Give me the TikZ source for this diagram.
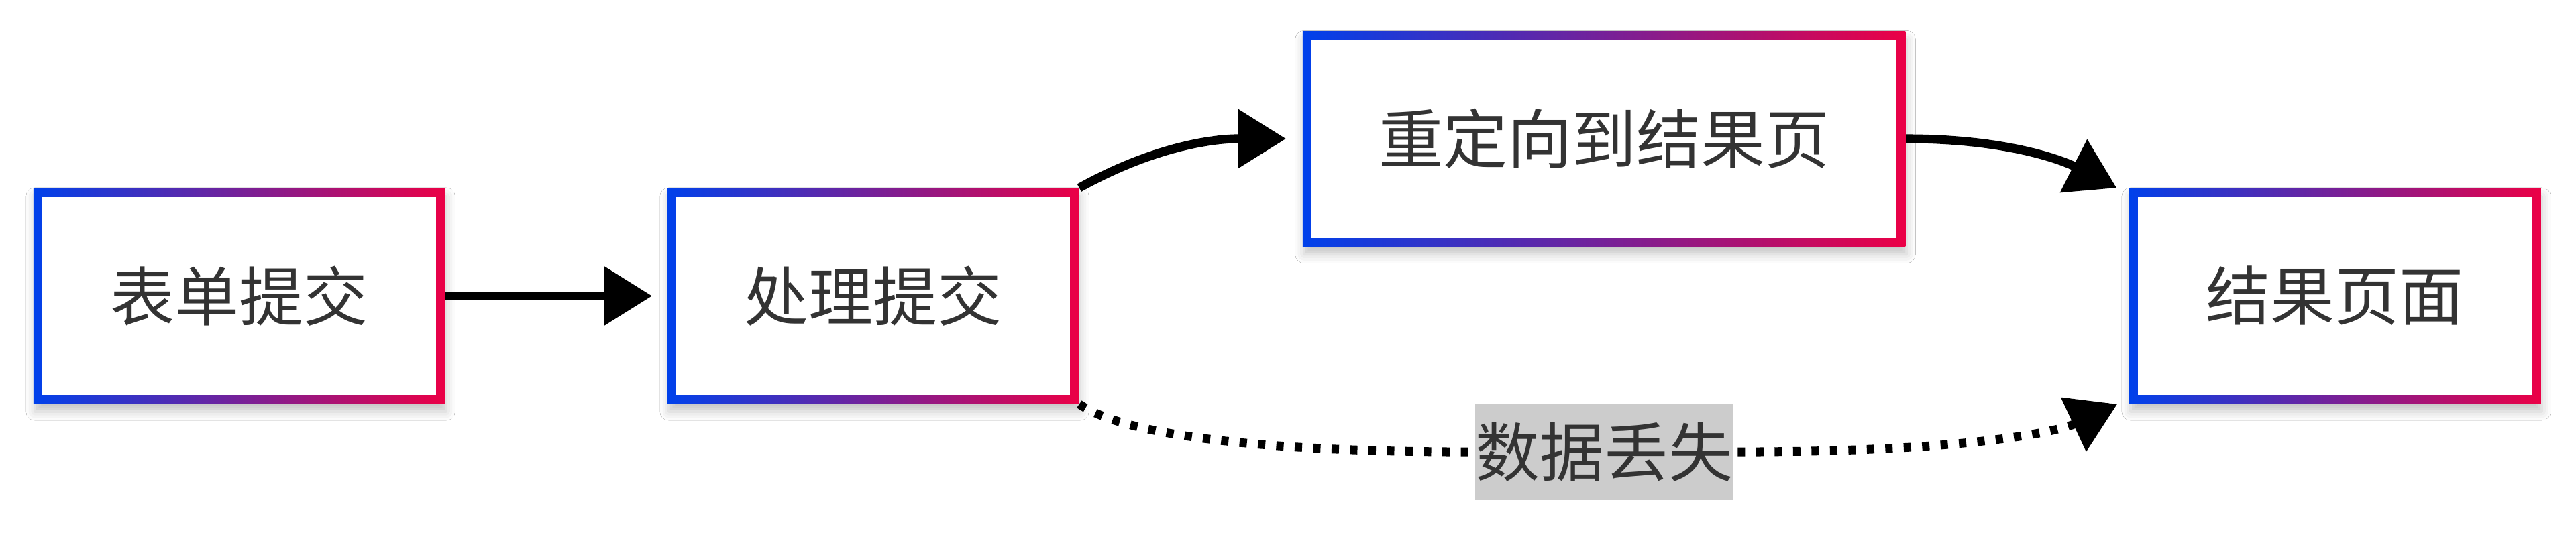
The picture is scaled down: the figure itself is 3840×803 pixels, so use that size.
\documentclass[tikz,border=0pt]{standalone}
\usepackage{fontspec}
\usepackage{tikz}
\usetikzlibrary{arrows.meta,positioning,backgrounds,shadows.blur}
\newfontfamily\cjkfont{Noto Sans CJK SC}
\definecolor{gblue}{RGB}{0,65,235}
\definecolor{gred}{RGB}{235,0,70}
\definecolor{txtgray}{RGB}{51,51,51}
\definecolor{lblgray}{RGB}{204,204,204}

\begin{document}
\begin{tikzpicture}[
    x=0.01cm, y=0.01cm,
    node distance=3.3cm,
    box/.style={rectangle, minimum width=6.13cm, minimum height=3.21cm, inner sep=0pt,
        left color=gblue, right color=gred, text=txtgray,
        font=\cjkfont\fontsize{27.3pt}{32pt}\selectfont,
        blur shadow={shadow xshift=0.02cm, shadow yshift=-0.12cm, shadow blur radius=0.13cm, shadow opacity=22},
        path picture={\fill[white] ([shift={(0.13cm,0.13cm)}]path picture bounding box.south west)
            rectangle ([shift={(-0.13cm,-0.13cm)}]path picture bounding box.north east);}},
    widebox/.style={box, minimum width=8.98cm},
    lostlabel/.style={rectangle, fill=lblgray, text=txtgray, inner xsep=0pt, minimum height=1.44cm,
        font=\cjkfont\fontsize{27.3pt}{32pt}\selectfont},
    arrow/.style={-{Triangle[length=0.72cm, width=0.86cm]}, line width=0.13cm},
    lostarrow/.style={arrow, dash pattern=on 0.11cm off 0.165cm}
]
\useasboundingbox (0,0) rectangle (3840,803);

\node[box] (form) at (356.5,361.5) {表单提交};
\node[box, right=of form] (proc) {处理提交};
\node[widebox, above right=-0.88cm and 3.32cm of proc] (redir) {重定向到结果页};
\node[box, below right=-0.88cm and 3.32cm of redir] (result) {结果页面};
\node[lostlabel, below=2.33cm of redir] (lost) {数据丢失};

\begin{scope}[on background layer]
\fill[white] (0,0) rectangle (3840,803);
\draw[arrow, shorten >=0.22cm] (form) -- (proc);
\draw[arrow] (proc.north east) .. controls +(29:160) and +(-70,0) .. ([xshift=-0.24cm]redir.west);
\draw[arrow] (redir.east) .. controls +(180,0) and +(153:60) .. ([xshift=-0.18cm]result.north west);
\draw[lostarrow] (proc.south east) .. controls +(-35:120) and +(-120,0) .. (lost.west)
    -- (lost.east) .. controls +(370,0) and +(205:90) .. ([xshift=-0.17cm]result.south west);
\end{scope}
\end{tikzpicture}
\end{document}
